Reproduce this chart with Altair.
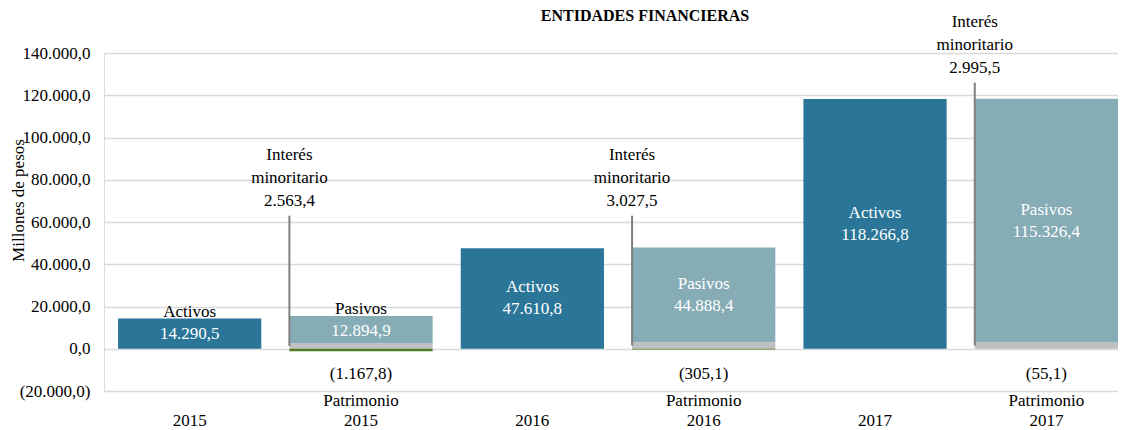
import altair as alt
import pandas as pd

# ---- data ----
years = ["2015", "2016", "2017"]
activos = [14290.5, 47610.8, 118266.8]
pasivos = [12894.9, 44888.4, 115326.4]
interes = [2563.4, 3027.5, 2995.5]
patrimonio = [-1167.8, -305.1, -55.1]
y_ticks = [-20000, 0, 20000, 40000, 60000, 80000, 100000, 120000, 140000]

# annotation anchor heights (layout, in data units)
callout_top = [63000, 63000, 126000]


def fmt(v):
    s = f"{abs(v):,.1f}".replace(",", "_").replace(".", ",").replace("_", ".")
    return f"({s})" if v < 0 else s


cats = []
for yr in years:
    cats += ["A" + yr, "P" + yr]

bar_rows, lab_rows, ann_rows, pat_rows = [], [], [], []
for i, yr in enumerate(years):
    a, p = "A" + yr, "P" + yr
    bar_rows.append(dict(cat=a, serie="Activos", y0=0, y1=activos[i]))
    bar_rows.append(dict(cat=p, serie="Interés minoritario", y0=0, y1=interes[i]))
    bar_rows.append(dict(cat=p, serie="Pasivos", y0=interes[i], y1=interes[i] + pasivos[i]))
    bar_rows.append(dict(cat=p, serie="Patrimonio", y0=patrimonio[i], y1=0))
    for cat, name, lo, val in [(a, "Activos", 0, activos[i]), (p, "Pasivos", interes[i], pasivos[i])]:
        hi = lo + val
        big = val > 20000
        anchor = (lo + hi) / 2 if big else hi - 2000
        lab_rows.append(dict(cat=cat, name=name, value=fmt(val), anchor=anchor,
                             ncol="white" if big else "black"))
    ann_rows.append(dict(cat=p, top=callout_top[i], mid=interes[i] / 2,
                         text="Interés\nminoritario\n" + fmt(interes[i])))
    pat_rows.append(dict(cat=p, text=fmt(patrimonio[i])))

bars = pd.DataFrame(bar_rows)
labs = pd.DataFrame(lab_rows)
anns = pd.DataFrame(ann_rows)
pats = pd.DataFrame(pat_rows)

FONT = "Times New Roman, Liberation Serif, serif"
FS = 17

xscale = alt.Scale(domain=cats, paddingInner=0.164, paddingOuter=0.041, align=1)
x_axis = alt.Axis(
    title=None, grid=False, domain=False, ticks=False, labelAngle=0,
    labelFontSize=FS, labelFont=FONT, labelColor="black", labelPadding=1,
    labelLineHeight=20, labelBaseline="top",
    labelExpr="datum.value[0] == 'A' ? ['', substring(datum.value, 1)] : ['Patrimonio', substring(datum.value, 1)]",
)
y_axis = alt.Axis(
    title="Millones de pesos", values=y_ticks, format="(,.1f", grid=True,
    gridColor="#d9d9d9", gridWidth=1.5, domain=False, ticks=False,
    labelFontSize=FS, labelFont=FONT, labelColor="black", labelPadding=14,
    titleFont=FONT, titleFontSize=FS, titleFontWeight="normal", titleColor="black",
    titleX=-86, titleY=147, titleBaseline="middle",
)
yscale = alt.Scale(domain=[-20000, 140000], nice=False, zero=False)

X = alt.X("cat:N", scale=xscale, axis=x_axis)

bar_layer = alt.Chart(bars).mark_bar(clip=False).encode(
    x=X,
    y=alt.Y("y0:Q", scale=yscale, axis=y_axis),
    y2="y1:Q",
    color=alt.Color(
        "serie:N",
        scale=alt.Scale(
            domain=["Activos", "Pasivos", "Interés minoritario", "Patrimonio"],
            range=["#2b7698", "#86acb6", "#bfbfbf", "#4e7a22"],
        ),
        legend=None,
    ),
)

name_layer = alt.Chart(labs).mark_text(font=FONT, fontSize=FS, dy=-11, baseline="middle").encode(
    x=alt.X("cat:N", scale=xscale, axis=x_axis, bandPosition=0.5),
    y=alt.Y("anchor:Q"),
    text="name:N",
    color=alt.Color("ncol:N", scale=None),
)
value_layer = alt.Chart(labs).mark_text(font=FONT, fontSize=FS, dy=11, baseline="middle", color="white").encode(
    x=alt.X("cat:N", scale=xscale, axis=x_axis, bandPosition=0.5),
    y=alt.Y("anchor:Q"),
    text="value:N",
)

rule_layer = alt.Chart(anns).mark_rule(color="#7f7f7f", strokeWidth=2).encode(
    x=alt.X("cat:N", scale=xscale, axis=x_axis, bandPosition=0),
    y=alt.Y("top:Q"),
    y2="mid:Q",
)
ann_layer = alt.Chart(anns).mark_text(
    font=FONT, fontSize=FS, lineBreak="\n", lineHeight=23, baseline="bottom", dy=-52, color="black"
).encode(
    x=alt.X("cat:N", scale=xscale, axis=x_axis, bandPosition=0),
    y=alt.Y("top:Q"),
    text="text:N",
)

pat_layer = alt.Chart(pats).mark_text(font=FONT, fontSize=FS, baseline="middle", color="black").encode(
    x=alt.X("cat:N", scale=xscale, axis=x_axis, bandPosition=0.5),
    y=alt.datum(-12000),
    text="text:N",
)

title_layer = alt.Chart(pd.DataFrame({"t": ["ENTIDADES FINANCIERAS"]})).mark_text(
    font=FONT, fontSize=16, fontWeight="bold", color="black", baseline="alphabetic"
).encode(
    x=alt.value(541),
    y=alt.value(-32),
    text="t:N",
)

chart = alt.layer(
    bar_layer, name_layer, value_layer, rule_layer, ann_layer, pat_layer, title_layer
).properties(
    width=1014,
    height=338,
    autosize=alt.AutoSizeParams(type="none"),
    padding={"left": 96, "top": 45, "right": 0, "bottom": 38},
).configure_view(stroke=None).configure(
    font=FONT,
    locale={"number": {"decimal": ",", "thousands": ".", "grouping": [3], "currency": ["$", ""]}},
)

chart.save("out.html", embed_options={"renderer": "svg", "actions": False})
